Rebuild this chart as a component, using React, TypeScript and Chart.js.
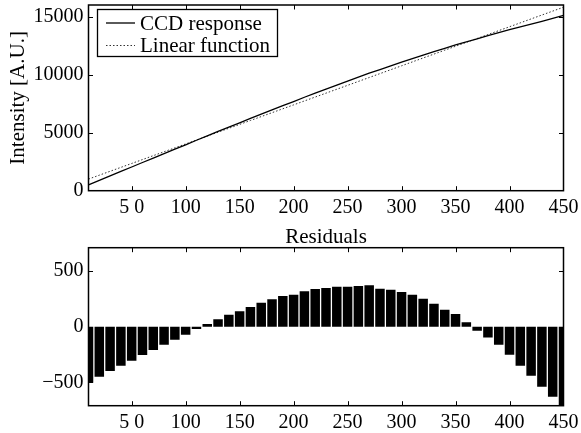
import React, { useEffect, useRef } from 'react';
import { Chart, registerables } from 'chart.js';

Chart.register(...registerables);

// ---------- data ----------
const pixelIndex = [
  10, 20, 30, 40, 50, 60, 70, 80, 90, 100,
  110, 120, 130, 140, 150, 160, 170, 180, 190, 200,
  210, 220, 230, 240, 250, 260, 270, 280, 290, 300,
  310, 320, 330, 340, 350, 360, 370, 380, 390, 400,
  410, 420, 430, 440, 450,
];

const ccdResponse = [
  496, 887, 1274, 1659, 2040, 2428, 2810, 3194, 3576, 3957,
  4345, 4727, 5105, 5484, 5850, 6226, 6602, 6968, 7335, 7683,
  8050, 8408, 8753, 9102, 9438, 9781, 10124, 10430, 10758, 11073,
  11386, 11687, 11978, 12261, 12558, 12820, 13082, 13358, 13629, 13875,
  14113, 14360, 14597, 14844, 15099,
];

const linearFunction = [
  1000, 1337, 1673, 2010, 2346, 2683, 3020, 3356, 3693, 4029,
  4366, 4703, 5039, 5376, 5712, 6049, 6386, 6722, 7059, 7395,
  7732, 8069, 8405, 8742, 9078, 9415, 9752, 10088, 10425, 10761,
  11098, 11435, 11771, 12108, 12444, 12781, 13118, 13454, 13791, 14127,
  14464, 14801, 15137, 15474, 15810,
];

const residuals = [
  -504, -450, -399, -351, -306, -255, -210, -162, -117, -72,
  -21, 24, 66, 108, 138, 177, 216, 246, 276, 288,
  318, 339, 348, 360, 360, 366, 372, 342, 333, 312,
  288, 252, 207, 153, 114, 39, -36, -96, -162, -252,
  -351, -441, -540, -630, -711,
];

const xTickValues = [50, 100, 150, 200, 250, 300, 350, 400, 450];
const xTickLabels = ['5 0', '100', '150', '200', '250', '300', '350', '400', '450'];
const topYTickValues = [0, 5000, 10000, 15000];
const bottomYTickValues = [-500, 0, 500];
const bottomYTickLabels = ['\u2212500', '0', '500'];

const legendLabels = ['CCD response', 'Linear function'];
const yAxisTitle = 'Intensity [A.U.]';
const residualTitle = 'Residuals';

// ---------- styling ----------
const FONT = "'Liberation Serif', 'Times New Roman', serif";
const W = 581;
const TOP_H = 218;
const BOT_H = 215;
const PLOT_LEFT = 88.5;
const PLOT_RIGHT = 563.5;

const boxTicks = {
  id: 'boxTicks',
  afterDraw(chart: any) {
    const { ctx, chartArea: a, scales } = chart;
    ctx.save();
    ctx.strokeStyle = '#000';
    ctx.lineWidth = 1.5;
    ctx.strokeRect(a.left, a.top, a.right - a.left, a.bottom - a.top);
    const L = 4.5;
    ctx.lineWidth = 1;
    ctx.beginPath();
    for (const t of scales.x.ticks) {
      const px = Math.round(scales.x.getPixelForValue(t.value)) + 0.5;
      if (px <= a.left + 1 || px >= a.right - 1) continue;
      ctx.moveTo(px, a.bottom);
      ctx.lineTo(px, a.bottom - L);
      ctx.moveTo(px, a.top);
      ctx.lineTo(px, a.top + L);
    }
    for (const t of scales.y.ticks) {
      const py = Math.round(scales.y.getPixelForValue(t.value)) + 0.5;
      if (py <= a.top + 1 || py >= a.bottom - 1) continue;
      ctx.moveTo(a.left, py);
      ctx.lineTo(a.left + L, py);
      ctx.moveTo(a.right, py);
      ctx.lineTo(a.right - L, py);
    }
    ctx.stroke();
    ctx.restore();
  },
};

const legendPlugin = {
  id: 'boxLegend',
  afterDraw(chart: any) {
    const { ctx } = chart;
    ctx.save();
    const x0 = 97.5, y0 = 9.5, x1 = 277.5, y1 = 56.5;
    ctx.fillStyle = '#fff';
    ctx.fillRect(x0, y0, x1 - x0, y1 - y0);
    ctx.strokeStyle = '#000';
    ctx.lineWidth = 1.3;
    ctx.strokeRect(x0, y0, x1 - x0, y1 - y0);
    const rows = [23, 45.5];
    const ds = chart.data.datasets;
    rows.forEach((ry, i) => {
      ctx.beginPath();
      ctx.strokeStyle = ds[i].borderColor;
      ctx.lineWidth = ds[i].borderWidth;
      ctx.setLineDash(ds[i].borderDash || []);
      ctx.moveTo(106, ry);
      ctx.lineTo(135, ry);
      ctx.stroke();
      ctx.setLineDash([]);
      ctx.fillStyle = '#000';
      ctx.font = `21px ${FONT}`;
      ctx.textBaseline = 'middle';
      ctx.textAlign = 'left';
      ctx.fillText(legendLabels[i], 140, ry + 1);
    });
    ctx.restore();
  },
};

const residualTitlePlugin = {
  id: 'residualTitle',
  afterDraw(chart: any) {
    const { ctx, chartArea: a } = chart;
    ctx.save();
    ctx.fillStyle = '#000';
    ctx.font = `21px ${FONT}`;
    ctx.textAlign = 'center';
    ctx.textBaseline = 'middle';
    ctx.fillText(residualTitle, (a.left + a.right) / 2, 19.5);
    ctx.restore();
  },
};

function fixY(width: number) {
  return (scale: any) => {
    scale.width = width;
    scale.paddingTop = 0;
    scale.paddingBottom = 0;
    scale.paddingLeft = 0;
    scale.paddingRight = 0;
  };
}
function fixX(height: number) {
  return (scale: any) => {
    scale.height = height;
    scale.paddingTop = 0;
    scale.paddingBottom = 0;
    scale.paddingLeft = 0;
    scale.paddingRight = 0;
  };
}

function xScale(height: number) {
  return {
    type: 'linear' as const,
    min: 10,
    max: 450,
    offset: false,
    grid: { display: false, drawTicks: false, offset: false },
    border: { display: false },
    afterBuildTicks: (s: any) => {
      s.ticks = xTickValues.map((v) => ({ value: v }));
    },
    afterFit: fixX(height),
    ticks: {
      autoSkip: false,
      maxRotation: 0,
      minRotation: 0,
      padding: 5,
      color: '#000',
      font: { family: FONT, size: 20 },
      callback: (v: number) => {
        const i = xTickValues.indexOf(v);
        return i >= 0 ? xTickLabels[i] : '';
      },
    },
  };
}

export default function App() {
  const topRef = useRef<HTMLCanvasElement>(null);
  const botRef = useRef<HTMLCanvasElement>(null);

  useEffect(() => {
    const top = new Chart(topRef.current!, {
      type: 'line',
      data: {
        datasets: [
          {
            label: legendLabels[0],
            data: pixelIndex.map((x, i) => ({ x, y: ccdResponse[i] })),
            borderColor: '#000',
            borderWidth: 1.3,
            pointRadius: 0,
            fill: false,
            tension: 0,
          },
          {
            label: legendLabels[1],
            data: pixelIndex.map((x, i) => ({ x, y: linearFunction[i] })),
            borderColor: '#333',
            borderWidth: 1,
            borderDash: [1.5, 2],
            pointRadius: 0,
            fill: false,
            tension: 0,
          },
        ],
      },
      options: {
        animation: false,
        responsive: false,
        devicePixelRatio: 1,
        layout: { padding: { left: 0, top: 5, right: W - PLOT_RIGHT, bottom: 0 } },
        plugins: { legend: { display: false }, tooltip: { enabled: false }, title: { display: false } },
        scales: {
          x: xScale(TOP_H - 190.7),
          y: {
            type: 'linear',
            min: 0,
            max: 16000,
            grid: { display: false, drawTicks: false },
            border: { display: false },
            afterBuildTicks: (s: any) => {
              s.ticks = topYTickValues.map((v) => ({ value: v }));
            },
            afterFit: fixY(PLOT_LEFT),
            title: {
              display: true,
              text: yAxisTitle,
              color: '#000',
              font: { family: FONT, size: 21 },
              padding: { top: 6, bottom: 0 },
            },
            ticks: {
              padding: 5,
              color: '#000',
              font: { family: FONT, size: 20 },
              callback: (v: number) => String(v),
            },
          },
        },
      },
      plugins: [boxTicks, legendPlugin],
    } as any);

    const bot = new Chart(botRef.current!, {
      type: 'bar',
      data: {
        datasets: [
          {
            label: residualTitle,
            data: pixelIndex.map((x, i) => ({ x, y: residuals[i] })),
            backgroundColor: '#000',
            borderWidth: 0,
            barPercentage: 0.88,
            categoryPercentage: 1,
          },
        ],
      },
      options: {
        animation: false,
        responsive: false,
        devicePixelRatio: 1,
        layout: { padding: { left: 0, top: 247.7 - TOP_H, right: W - PLOT_RIGHT, bottom: 0 } },
        plugins: { legend: { display: false }, tooltip: { enabled: false }, title: { display: false } },
        scales: {
          x: xScale(BOT_H - (405.7 - TOP_H)),
          y: {
            type: 'linear',
            min: -710,
            max: 710,
            grid: { display: false, drawTicks: false },
            border: { display: false },
            afterBuildTicks: (s: any) => {
              s.ticks = bottomYTickValues.map((v) => ({ value: v }));
            },
            afterFit: fixY(PLOT_LEFT),
            ticks: {
              padding: 5,
              color: '#000',
              font: { family: FONT, size: 20 },
              callback: (v: number) => {
                const i = bottomYTickValues.indexOf(v);
                return i >= 0 ? bottomYTickLabels[i] : '';
              },
            },
          },
        },
      },
      plugins: [boxTicks, residualTitlePlugin],
    } as any);

    return () => {
      top.destroy();
      bot.destroy();
    };
  }, []);

  return (
    <div style={{ position: 'absolute', left: 0, top: 0, width: W, height: 433, background: '#fff' }}>
      <canvas ref={topRef} width={W} height={TOP_H} style={{ display: 'block', width: W, height: TOP_H }} />
      <canvas ref={botRef} width={W} height={BOT_H} style={{ display: 'block', width: W, height: BOT_H }} />
    </div>
  );
}
